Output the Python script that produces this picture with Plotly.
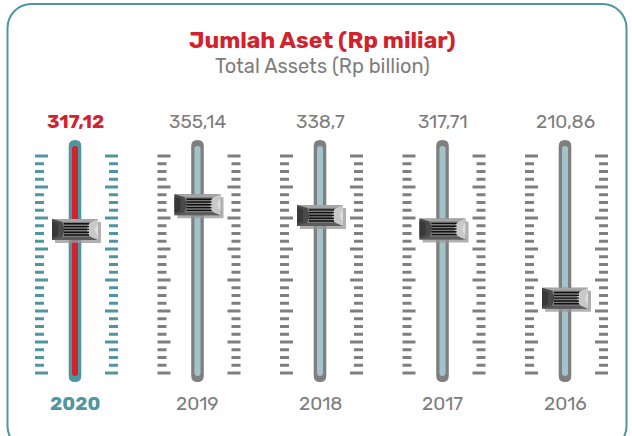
import plotly.graph_objects as go

# ---- data ----
years = ["2020", "2019", "2018", "2017", "2016"]
values = [317.12, 355.14, 338.7, 317.71, 210.86]
value_labels = ["317,12", "355,14", "338,7", "317,71", "210,86"]
highlight = [True, False, False, False, False]

title_id = "Jumlah Aset (Rp miliar)"
title_en = "Total Assets (Rp billion)"

# ---- styles ----
W, H = 632, 436
FONT = "Rubik, Roboto, Arial, sans-serif"
TEAL = "#4f96a0"
RED = "#d1232e"
GRAY_TXT = "#7d7d7d"
TRACK_GRAY = "#7f7f7f"
TRACK_LIGHT = "#a3c3cb"

fig = go.Figure()
# data trace (knob centres), invisible; knobs drawn as anchored shapes on these axes
fig.add_trace(go.Scatter(x=list(range(len(values))), y=values, mode="markers",
                         marker=dict(opacity=0), hoverinfo="skip", showlegend=False))
# pixel overlay axes for decoration
fig.add_trace(go.Scatter(x=[0], y=[0], xaxis="x2", yaxis="y2", mode="markers",
                         marker=dict(opacity=0), hoverinfo="skip", showlegend=False))

shapes = []

# frame (rounded rectangle)
L, R, T, B, r = 7.5, 626.5, 4, 450, 24
k = r * 0.4477
frame = (f"M {L+r},{T} L {R-r},{T} C {R-k},{T} {R},{T+k} {R},{T+r} "
         f"L {R},{B-r} C {R},{B-k} {R-k},{B} {R-r},{B} "
         f"L {L+r},{B} C {L+k},{B} {L},{B-k} {L},{B-r} "
         f"L {L},{T+r} C {L},{T+k} {L+k},{T} {L+r},{T} Z")
shapes.append(dict(type="path", xref="x2", yref="y2", path=frame,
                   line=dict(color=TEAL, width=2), fillcolor="rgba(0,0,0,0)", layer="below"))


def capsule(hw, y0, y1):
    return (f"M {-hw},{y0+hw} Q {-hw},{y0} 0,{y0} Q {hw},{y0} {hw},{y0+hw} "
            f"L {hw},{y1-hw} Q {hw},{y1} 0,{y1} Q {-hw},{y1} {-hw},{y1-hw} Z")


n_ticks = 29
tick_top, tick_bot = 156, 373
step = (tick_bot - tick_top) / (n_ticks - 1)

for i, (v, hl) in enumerate(zip(values, highlight)):
    outer = TEAL if hl else TRACK_GRAY
    inner = RED if hl else TRACK_LIGHT
    tick_col = TEAL if hl else TRACK_GRAY
    # ticks
    segs = []
    for t in range(n_ticks):
        y = tick_top + t * step
        long = (t % 4 == 0)
        segs.append(f"M -40,{y:.2f} L {(-27 if long else -31)},{y:.2f}")
        segs.append(f"M {(30 if long else 34)},{y:.2f} L 43,{y:.2f}")
    shapes.append(dict(type="path", xref="x", yref="y2", xsizemode="pixel", xanchor=i,
                       path=" ".join(segs), line=dict(color=tick_col, width=2.8)))
    # track
    shapes.append(dict(type="path", xref="x", yref="y2", xsizemode="pixel", xanchor=i,
                       path=capsule(6.3, 140, 382), fillcolor=outer, line=dict(width=0)))
    shapes.append(dict(type="path", xref="x", yref="y2", xsizemode="pixel", xanchor=i,
                       path=capsule(3, 146, 376), fillcolor=inner, line=dict(width=0)))

    # knob (pixel offsets around the value anchor, +y = up)
    def kshape(path, fill, lw=0, lc=None):
        d = dict(type="path", xref="x", yref="y", xsizemode="pixel", ysizemode="pixel",
                 xanchor=i, yanchor=v, path=path, fillcolor=fill,
                 line=dict(width=lw, color=lc or fill))
        return d
    shapes.append(kshape("M -20,7.5 L 26,7.5 L 26,-13.5 L -20,-13.5 Z", "rgba(150,150,150,0.75)"))
    shapes.append(kshape("M -23,10.5 L 23,10.5 L 23,-10.5 L -23,-10.5 Z", "#7b7b7b"))
    shapes.append(kshape("M -23,10.5 L 23,10.5 L 16,7.5 L -13,7.5 Z", "#a5a5a5"))
    shapes.append(kshape("M -23,-10.5 L 23,-10.5 L 16,-7.5 L -13,-7.5 Z", "#5c5c5c"))
    shapes.append(kshape("M -23,10.5 L -13,7.5 L -11,2 L -11,-2 L -13,-7.5 L -23,-10.5 Z", "#4a4a4a"))
    shapes.append(kshape("M -23,8 L -17,6 L -17,-6 L -23,-8 Z", "#383838"))
    shapes.append(kshape("M 23,10.5 L 16,7.5 Q 8,0 16,-7.5 L 23,-10.5 Z", "#c9c9c9"))
    shapes.append(kshape("M 23,6 Q 17,0 23,-6 Z", "#dedede"))
    lines = " ".join(f"M -11,{yy} L 14,{yy}" for yy in (5.6, 2.8, 0, -2.8, -5.6))
    shapes.append(dict(type="path", xref="x", yref="y", xsizemode="pixel", ysizemode="pixel",
                       xanchor=i, yanchor=v, path=lines, line=dict(color="#111111", width=1.4)))

annotations = [
    dict(text=f"<b>{title_id}</b>", x=0.51, y=1 - 40 / H, xref="paper", yref="paper",
         showarrow=False, font=dict(family=FONT, size=23, color=RED), xanchor="center", yanchor="middle"),
    dict(text=title_en, x=0.51, y=1 - 66 / H, xref="paper", yref="paper",
         showarrow=False, font=dict(family=FONT, size=20, color=GRAY_TXT), xanchor="center", yanchor="middle"),
]
for i, (lab, yr, hl) in enumerate(zip(value_labels, years, highlight)):
    annotations.append(dict(text=f"<b>{lab}</b>" if hl else lab, x=i, y=1 - 121 / H,
                            xref="x", yref="paper", showarrow=False, xanchor="center", yanchor="middle",
                            font=dict(family=FONT, size=19, color=RED if hl else GRAY_TXT)))
    annotations.append(dict(text=f"<b>{yr}</b>" if hl else yr, x=i, y=1 - 403 / H,
                            xref="x", yref="paper", showarrow=False, xanchor="center", yanchor="middle",
                            font=dict(family=FONT, size=19, color=TEAL if hl else GRAY_TXT)))

# axis scales: slider spacing 122.5 px starting at 75 px; value scale ~0.647 px per unit
x0px, dxpx = 75, 122.5
fig.update_layout(
    width=W, height=H, margin=dict(l=0, r=0, t=0, b=0),
    paper_bgcolor="white", plot_bgcolor="white", showlegend=False,
    xaxis=dict(range=[-x0px / dxpx, (W - x0px) / dxpx], visible=False, fixedrange=True),
    yaxis=dict(range=[-2.2, 671.7], visible=False, fixedrange=True),
    xaxis2=dict(range=[0, W], overlaying="x", anchor="y2", visible=False, fixedrange=True),
    yaxis2=dict(range=[H, 0], overlaying="y", anchor="x2", visible=False, fixedrange=True),
    shapes=shapes, annotations=annotations,
)
fig.write_html("out.html", post_script="document.body.style.margin='0';",
               config={"displayModeBar": False})
